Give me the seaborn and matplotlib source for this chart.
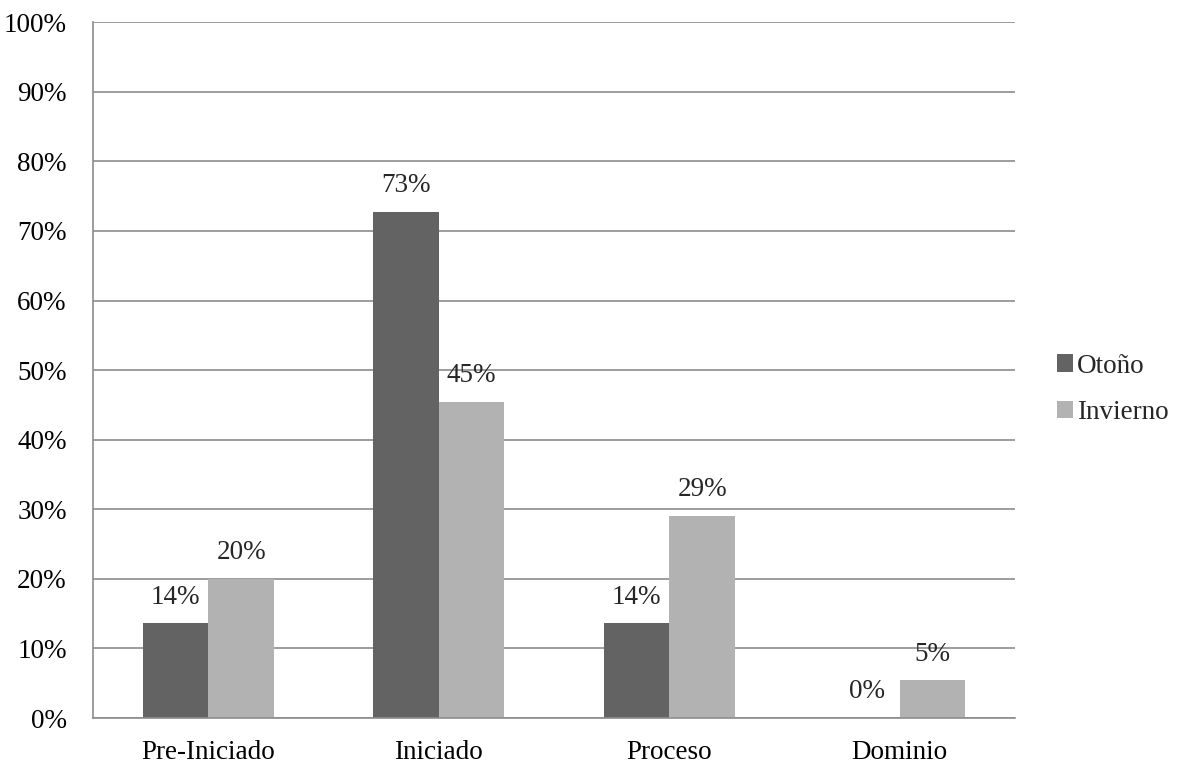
import pandas as pd
import numpy as np
import matplotlib
matplotlib.use('Agg')
import matplotlib.pyplot as plt
import seaborn as sns
from matplotlib.patches import Patch

# Datos
categorias = ['Pre-Iniciado', 'Iniciado', 'Proceso', 'Dominio']
otono = [0.136, 0.727, 0.136, 0.0]
invierno = [0.20, 0.454, 0.291, 0.054]
series = ['Otoño', 'Invierno']
colores = ['#636363', '#b2b2b2']

df = pd.DataFrame({
    'categoria': categorias * 2,
    'serie': [series[0]] * 4 + [series[1]] * 4,
    'valor': otono + invierno,
})

sns.set_style('white')
plt.rcParams['font.family'] = ['Liberation Serif', 'DejaVu Serif']

fig = plt.figure(figsize=(11.79, 7.65), dpi=100)
ax = fig.add_axes([0.0789, 0.0614, 0.782, 0.9096])

sns.barplot(data=df, x='categoria', y='valor', hue='serie', order=categorias,
            hue_order=series, palette=colores, width=0.57, saturation=1,
            ax=ax, legend=False, edgecolor='none')

# Grilla y ejes
ax.set_ylim(0, 1)
ax.set_xlim(-0.5, 3.5)
ax.set_yticks(np.arange(0, 1.01, 0.1))
ax.set_yticklabels([f'{int(round(v * 100))}%' for v in np.arange(0, 1.01, 0.1)])
ax.yaxis.grid(True, color='#8c8c8c', linewidth=1.2)
ax.set_axisbelow(True)
for s in ['top', 'right']:
    ax.spines[s].set_visible(False)
for s in ['left', 'bottom']:
    ax.spines[s].set_color('#8c8c8c')
    ax.spines[s].set_linewidth(1.2)

ax.set_xticks(range(len(categorias)))
ax.set_xticklabels(categorias)
ax.set_xticks(np.arange(-0.5, 3.6, 1), minor=True)
ax.tick_params(axis='x', which='major', length=0, labelsize=19.5, pad=16)
ax.tick_params(axis='x', which='minor', length=6, width=1.2, color='#8c8c8c', direction='out')
ax.tick_params(axis='y', length=6, width=1.2, color='#8c8c8c', direction='out', labelsize=19.5, pad=13)
ax.tick_params(axis='both', labelcolor='black')
ax.set_xlabel('')
ax.set_ylabel('')

# Etiquetas de datos
for cont in ax.containers:
    ax.bar_label(cont, labels=[f'{round(b.get_height() * 100):.0f}%' for b in cont],
                 padding=10, fontsize=19.5)

# Leyenda
handles = [Patch(facecolor=c, edgecolor='none') for c in colores]
fig.legend(handles, series, loc='center left', bbox_to_anchor=(0.885, 0.491),
           frameon=False, fontsize=19.5, handlelength=0.6, handleheight=0.6,
           handletextpad=0.15, labelspacing=0.8, borderpad=0)

plt.savefig('out.png', dpi=100)
